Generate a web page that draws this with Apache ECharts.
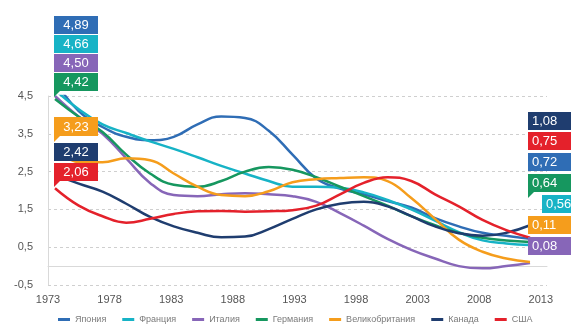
<!DOCTYPE html>
<html>
<head>
<meta charset="utf-8">
<script src="https://cdn.jsdelivr.net/npm/echarts@6/dist/echarts.min.js"></script>
<style>
  html, body { margin: 0; padding: 0; background: #ffffff; }
  #chart { width: 571px; height: 334px; }
</style>
</head>
<body>
<div id="chart"></div>
<script>
// Years at which each country's curve is sampled
const years = [1973, 1975, 1977, 1979, 1981, 1983, 1985, 1987, 1989, 1991, 1993,
               1995, 1997, 1999, 2001, 2003, 2005, 2007, 2009, 2011, 2013];

// Series values (%)
const japan   = [4.89, 4.10, 3.68, 3.42, 3.33, 3.42, 3.75, 3.96, 3.92, 3.58, 2.95,
                 2.32, 2.05, 1.90, 1.72, 1.55, 1.27, 1.05, 0.88, 0.80, 0.72];
const france  = [4.66, 4.15, 3.75, 3.52, 3.30, 3.10, 2.88, 2.65, 2.45, 2.25, 2.10,
                 2.10, 2.07, 1.95, 1.75, 1.50, 1.20, 0.90, 0.68, 0.60, 0.56];
const italy   = [4.50, 3.95, 3.50, 2.85, 2.20, 1.88, 1.85, 1.90, 1.93, 1.90, 1.85,
                 1.70, 1.40, 1.07, 0.72, 0.43, 0.20, 0.00, -0.06, 0.00, 0.08];
const germany = [4.42, 3.95, 3.55, 2.95, 2.45, 2.15, 2.10, 2.25, 2.50, 2.62, 2.55,
                 2.35, 2.10, 1.85, 1.60, 1.32, 1.08, 0.88, 0.75, 0.68, 0.64];
const uk      = [3.23, 2.75, 2.75, 2.85, 2.80, 2.45, 2.10, 1.88, 1.85, 1.98, 2.22,
                 2.30, 2.33, 2.35, 2.25, 1.80, 1.25, 0.70, 0.38, 0.20, 0.11];
const canada  = [2.42, 2.18, 1.97, 1.65, 1.30, 1.05, 0.88, 0.76, 0.78, 0.98, 1.25,
                 1.50, 1.65, 1.70, 1.58, 1.32, 1.05, 0.87, 0.80, 0.88, 1.08];
const usa     = [2.06, 1.60, 1.32, 1.15, 1.25, 1.38, 1.45, 1.46, 1.44, 1.45, 1.48,
                 1.60, 1.90, 2.20, 2.35, 2.25, 1.90, 1.58, 1.22, 0.95, 0.75];

const names  = ['Япония', 'Франция', 'Италия', 'Германия', 'Великобритания', 'Канада', 'США'];
const values = [japan, france, italy, germany, uk, canada, usa];
const colors = ['#2f6db5', '#17b3c6', '#8766b8', '#16975f', '#f59d1c', '#1f3d6f', '#e4212b'];

// Tick labels
const xTicks = [1973, 1978, 1983, 1988, 1993, 1998, 2003, 2008, 2013];
const yTicks = [-0.5, 0.5, 1.5, 2.5, 3.5, 4.5];

const fmt = v => v.toFixed(2).replace('.', ',');
const FONT = "'Liberation Sans', 'DejaVu Sans', sans-serif";

// Stacked value boxes at the start and end of the curves
// [series index, left, top, width, height, has pointer]
const startBoxes = [
  [0, 54, 16, 44, 18, false],
  [1, 54, 35, 44, 18, false],
  [2, 54, 54, 44, 18, false],
  [3, 54, 73, 44, 18, true],
  [4, 54, 117, 44, 19, true],
  [5, 54, 143, 44, 18, false],
  [6, 54, 163, 44, 18, true]
];
const endBoxes = [
  [5, 528, 112, 46, 18, false],
  [6, 528, 132, 46, 18, false],
  [0, 528, 153, 46, 18, false],
  [3, 528, 174, 46, 18, true],
  [1, 542, 195, 32, 18, false],
  [4, 528, 216, 46, 18, false],
  [2, 528, 237, 46, 18, false]
];

function boxGraphics(list, pick, centred) {
  const out = [];
  list.forEach(([si, x, y, w, h, tail]) => {
    const v = pick(values[si]);
    out.push({ type: 'rect', shape: { x: x, y: y, width: w, height: h },
               style: { fill: colors[si] }, z: 100 });
    if (tail) {
      out.push({ type: 'polygon',
                 shape: { points: [[x, y + h - 1], [x + 7, y + h - 1], [x, y + h + 6]] },
                 style: { fill: colors[si] }, z: 100 });
    }
    out.push({ type: 'text', x: centred ? x + w / 2 : x + 4, y: y + h / 2 + 0.5, z: 101,
               style: { text: fmt(v), fill: '#ffffff', fontSize: 13, fontFamily: FONT,
                        verticalAlign: 'middle', align: centred ? 'center' : 'left' } });
  });
  return out;
}

const chart = echarts.init(document.getElementById('chart'), null, { renderer: 'canvas' });

const option = {
  backgroundColor: '#ffffff',
  animation: false,
  color: colors,
  grid: { left: 48, right: 24, top: 96, bottom: 49 },
  legend: {
    bottom: 5,
    left: 53,
    icon: 'rect',
    itemWidth: 12,
    itemHeight: 3,
    itemGap: 16,
    textStyle: { fontSize: 9, color: '#7a7a7a', fontFamily: FONT },
    data: names
  },
  xAxis: [
    {
      // labelled year axis
      type: 'value',
      min: xTicks[0],
      max: 2013.5,
      interval: 5,
      axisLine: { show: true, lineStyle: { color: '#d9d9d9', width: 1 } },
      axisTick: { show: false },
      splitLine: { show: false },
      axisLabel: {
        color: '#555555', fontSize: 11, fontFamily: FONT, margin: 9,
        showMaxLabel: false,
        formatter: v => (xTicks.indexOf(v) >= 0 ? String(v) : '')
      }
    },
    {
      // axis the curves are drawn on
      type: 'value',
      min: 1972.41,
      max: 2014.43,
      show: false
    }
  ],
  yAxis: {
    type: 'value',
    min: yTicks[0],
    max: yTicks[yTicks.length - 1],
    interval: 1,
    axisLine: { show: true, lineStyle: { color: '#d9d9d9', width: 1 } },
    axisTick: { show: false },
    axisLabel: {
      color: '#555555', fontSize: 11, fontFamily: FONT, margin: 15,
      formatter: v => v.toFixed(1).replace('.', ',')
    },
    splitLine: { show: true, lineStyle: { color: '#cfcfcf', type: [3, 3], width: 1 } }
  },
  series: names.map((n, i) => ({
    name: n,
    type: 'line',
    xAxisIndex: 1,
    smooth: 0.45,
    symbol: 'none',
    lineStyle: { width: 2.5, color: colors[i] },
    itemStyle: { color: colors[i] },
    data: years.map((y, k) => [y, values[i][k]])
  })),
  graphic: [].concat(
    boxGraphics(startBoxes, a => a[0], true),
    boxGraphics(endBoxes, a => a[a.length - 1], false)
  )
};

chart.setOption(option);
</script>
</body>
</html>
